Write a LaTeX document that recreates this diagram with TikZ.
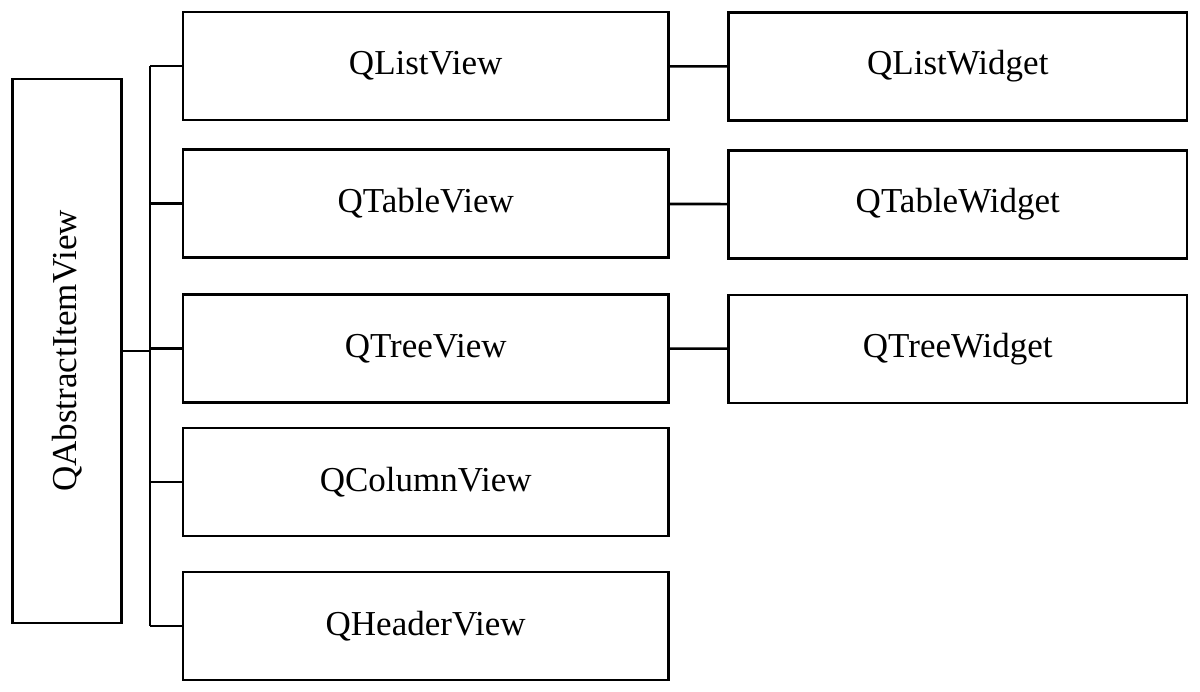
\documentclass[tikz,border=0pt]{standalone}
\usepackage{fontspec}
\setmainfont{Liberation Serif}
\usetikzlibrary{matrix}

\begin{document}
\begin{tikzpicture}[x=1pt, y=-1pt,
  box/.style={draw, line width=2.6pt, minimum height=108pt, inner sep=0pt, font=\fontsize{35}{40}\selectfont},
  link/.style={line width=2.6pt}]
  \useasboundingbox (0,0) rectangle (1200,692);
  \matrix (m) [matrix of nodes, nodes=box, row sep=0pt, column sep=58pt,
    column 1/.style={nodes={minimum width=485pt}},
    column 2/.style={nodes={minimum width=458pt}}] at (685,346)
  {
QListView & QListWidget \\[26.4pt]
QTableView & QTableWidget \\[33.4pt]
QTreeView & QTreeWidget \\[22.4pt]
QColumnView & \\[33.4pt]
QHeaderView & \\
};
  \node (av) [box, rotate=90, minimum width=544pt, minimum height=109pt] at (67,351) {QAbstractItemView};
  \coordinate (trunk) at (150,351);
  \draw[link] (m-1-1.west -| trunk) -- (m-5-1.west -| trunk);
  \draw[link] (av.south) -- (trunk);
  \foreach \r in {1,...,5}
    \draw[link] (m-\r-1.west -| trunk) -- (m-\r-1.west);
  \path[link]
  (m-1-1) edge (m-1-2)
  (m-2-1) edge (m-2-2)
  (m-3-1) edge (m-3-2)
  ;
\end{tikzpicture}
\end{document}
